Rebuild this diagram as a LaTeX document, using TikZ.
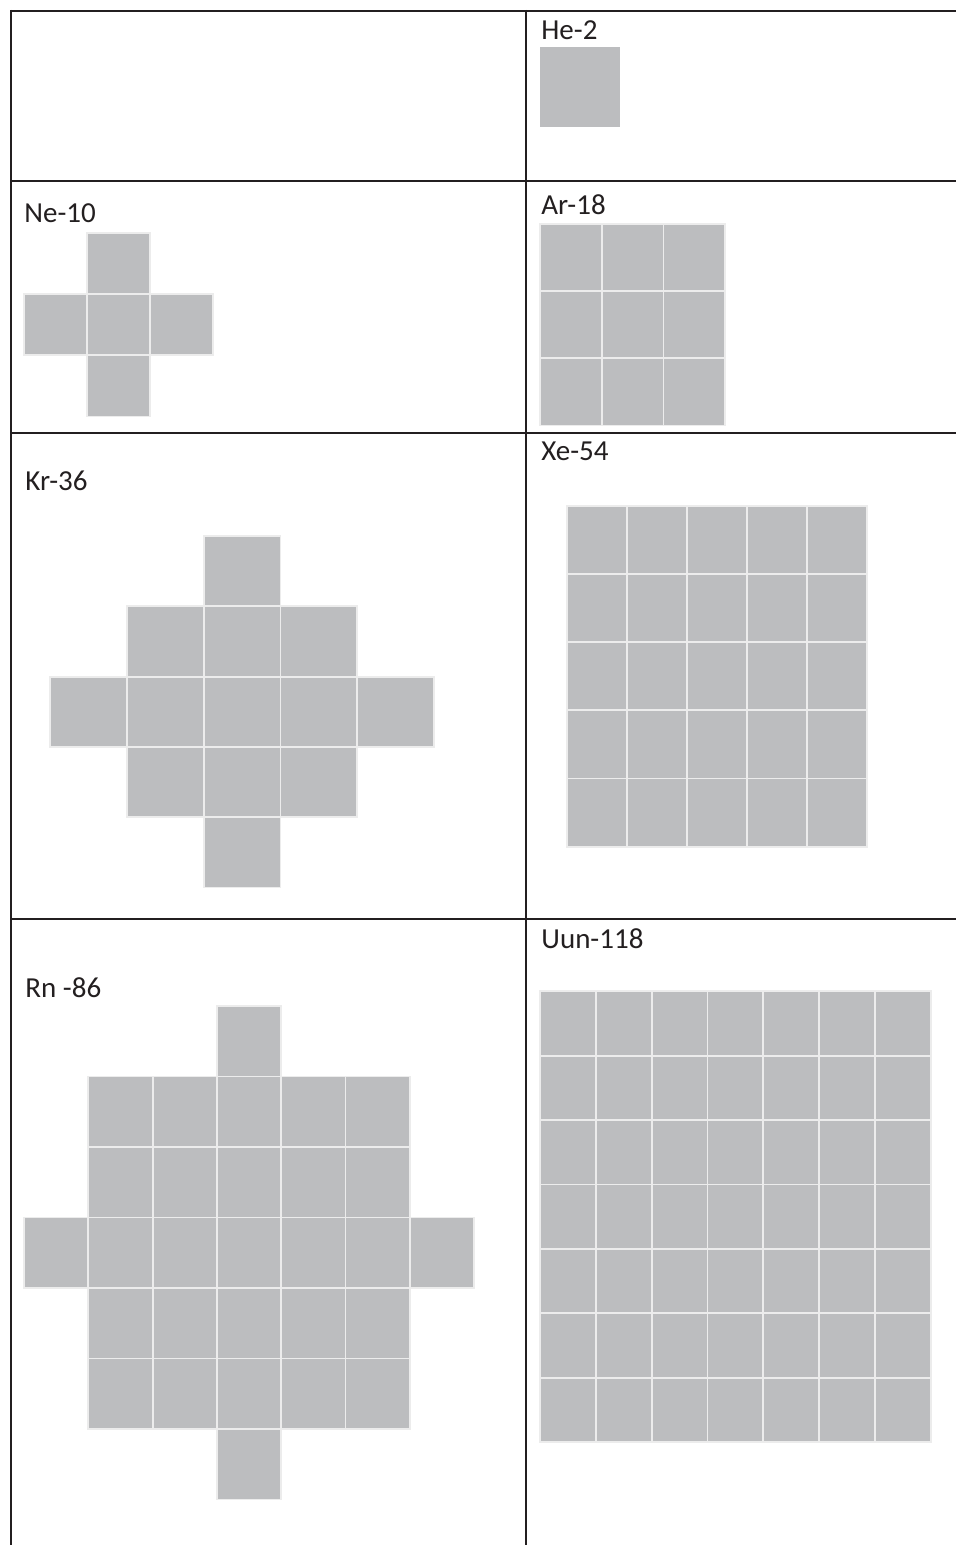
\documentclass[tikz,border=0pt]{standalone}
\usepackage{fontspec}
\setmainfont{Carlito}
\definecolor{tabline}{HTML}{231F20}
\definecolor{cellfill}{HTML}{BCBDBF}
\definecolor{celledge}{HTML}{ECECEC}
\tikzset{
  rule/.style={draw=tabline, line width=1pt},
  cell/.style={fill=cellfill, draw=celledge, line width=0.9pt},
  elem/.style={anchor=base west, inner sep=0pt, text=tabline, font=\fontsize{14.5}{17}\selectfont}
}
\begin{document}
\begin{tikzpicture}[x=0.5pt,y=-0.5pt]
\useasboundingbox (0,0) rectangle (956,1545);
% table rules
\draw[rule] (10.7,11) -- (956,11);
\draw[rule] (10.7,181) -- (956,181);
\draw[rule] (10.7,433) -- (956,433);
\draw[rule] (10.7,919) -- (956,919);
\draw[rule] (10.7,10) -- (10.7,1545);
\draw[rule] (526,10) -- (526,1545);
% labels
\node[elem] (he) at (541,39.3) {He-2};
\node[elem] (ne) at (24,223) {Ne-10};
\node[elem] (ar) at (541,215) {Ar-18};
\node[elem] (kr) at (25,490.7) {Kr-36};
\node[elem] (xe) at (541,460.7) {Xe-54};
\node[elem] (rn) at (25,997.5) {Rn -86};
\node[elem] (uun) at (541,948.5) {Uun-118};
% He
\path[fill=cellfill] (540,47) rectangle (620,127);
% Ne
\foreach \c/\r in {1/0,0/1,1/1,2/1,1/2}
  \path[cell] ({24+63*\c},{232.7+61.3*\r}) rectangle ++(63,61.3);
% Ar
\foreach \c in {0,1,2}
  \foreach \r in {0,1,2}
    \path[cell] ({540+61.7*\c},{224+67.2*\r}) rectangle ++(61.7,67.2);
% Kr
\foreach \c/\r in {2/0,1/1,2/1,3/1,0/2,1/2,2/2,3/2,4/2,1/3,2/3,3/3,2/4}
  \path[cell] ({50+76.8*\c},{536+70.3*\r}) rectangle ++(76.8,70.3);
% Xe
\foreach \c in {0,...,4}
  \foreach \r in {0,...,4}
    \path[cell] ({566.7+60*\c},{505.7+68.2*\r}) rectangle ++(60,68.2);
% Rn
\foreach \c/\r in {3/0,0/3,6/3,3/6}
  \path[cell] ({24+64.3*\c},{1006+70.5*\r}) rectangle ++(64.3,70.5);
\foreach \r in {1,...,5}
  \foreach \c in {1,...,5}
    \path[cell] ({24+64.3*\c},{1006+70.5*\r}) rectangle ++(64.3,70.5);
% Uun
\foreach \c in {0,...,6}
  \foreach \r in {0,...,6}
    \path[cell] ({540+55.8*\c},{991.3+64.4*\r}) rectangle ++(55.8,64.4);
\end{tikzpicture}
\end{document}
